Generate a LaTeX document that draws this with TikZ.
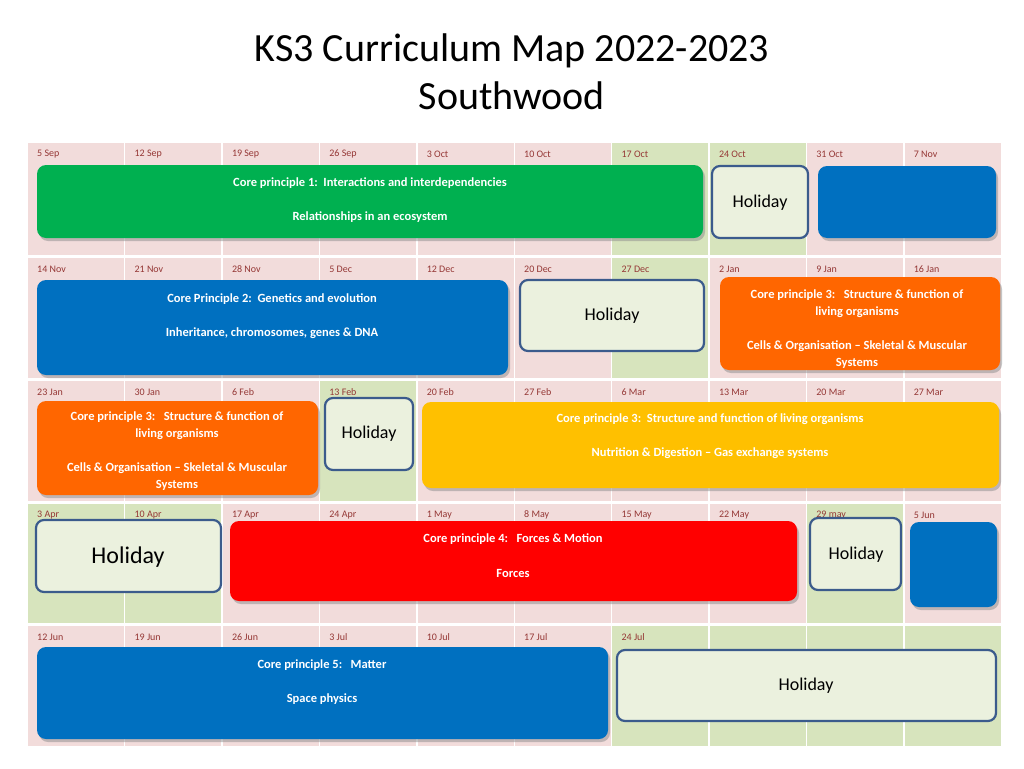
\documentclass[tikz,border=0pt]{standalone}
\usepackage{fontspec}
\setmainfont{Carlito}
\usetikzlibrary{shadows}
\definecolor{pk}{HTML}{F2DCDB}
\definecolor{gr}{HTML}{D7E4BD}
\definecolor{dt}{HTML}{953735}
\definecolor{cgreen}{HTML}{00B050}
\definecolor{cblue}{HTML}{0070C0}
\definecolor{corange}{HTML}{FF6600}
\definecolor{cred}{HTML}{FF0000}
\definecolor{cyellow}{HTML}{FFC000}
\definecolor{hfill}{HTML}{EBF1DE}
\definecolor{hline}{HTML}{3B5B8C}
\tikzset{
 x=1pt,y=-1pt,
 topic/.style={rounded corners=9pt,drop shadow={shadow xshift=2pt,shadow yshift=-3pt,fill=black!45}},
 hol/.style={rounded corners=8pt,fill=hfill,draw=hline,line width=2.2pt},
 dlab/.style={anchor=west,text=dt,font=\fontsize{10}{12}\selectfont,inner sep=0pt},
 ttxt/.style={text=white,font=\fontsize{12.5}{17}\selectfont\bfseries,align=center,inner sep=0pt},
 htxt/.style={font=\fontsize{18}{20}\selectfont,inner sep=0pt},
}
\begin{document}
\begin{tikzpicture}
\useasboundingbox (0,0) rectangle (1024,768);
\fill[white] (0,0) rectangle (1024,768);
\node[font=\fontsize{40}{48}\selectfont,align=center] (title) at (512,72) {KS3 Curriculum Map 2022-2023\\Southwood};
% grid
\def\colx{{28,125.4,222.8,320.2,417.6,515,612.4,709.8,807.2,904.6,1002}}
\foreach \r/\ya/\yb/\greens/\labs in {
 1/143/255/{7,8}/{5 Sep,12 Sep,19 Sep,26 Sep,3 Oct,10 Oct,17 Oct,24 Oct,31 Oct,7 Nov},
 2/258/378/{7}/{14 Nov,21 Nov,28 Nov,5 Dec,12 Dec,20 Dec,27 Dec,2 Jan,9 Jan,16 Jan},
 3/381/501/{4}/{23 Jan,30 Jan,6 Feb,13 Feb,20 Feb,27 Feb,6 Mar,13 Mar,20 Mar,27 Mar},
 4/504/623/{1,2,9}/{3 Apr,10 Apr,17 Apr,24 Apr,1 May,8 May,15 May,22 May,29 may,5 Jun},
 5/626/746/{7,8,9,10}/{12 Jun,19 Jun,26 Jun,3 Jul,10 Jul,17 Jul,24 Jul,,,}}{
 \foreach \c [count=\i from 0] in {1,...,10}{
   \pgfmathsetmacro\xa{\colx[\i]}
   \pgfmathsetmacro\xb{\colx[\i+1]-1.5}
   \def\cc{pk}
   \foreach \g in \greens {\ifnum\g=\c\gdef\cc{gr}\fi}
   \fill[\cc] (\xa,\ya) rectangle (\xb,\yb);
   \global\let\cc\cc
 }
 \foreach \l [count=\j from 0] in \labs {
   \pgfmathsetmacro\xl{\colx[\j]+9}
   \node[dlab] (d\r-\j) at (\xl,\ya+11) {\l};
 }
}
% row 1
\fill[topic,cgreen] (37,165) rectangle (703,238);
\node[ttxt] (t1a) at (370,183) {Core principle 1:\ \ Interactions and interdependencies};
\node[ttxt] (t1b) at (370,217) {Relationships in an ecosystem};
\draw[hol] (712,166) rectangle (808,238);
\node[htxt] (h1) at (760,203) {Holiday};
\fill[topic,cblue] (818,166) rectangle (996,238);
% row 2
\fill[topic,cblue] (37,280) rectangle (508,375);
\node[ttxt] (t2a) at (272,299) {Core Principle 2:\ \ Genetics and evolution};
\node[ttxt] (t2b) at (272,333) {Inheritance, chromosomes, genes \& DNA};
\draw[hol] (520,280) rectangle (704,351);
\node[htxt] (h2) at (612,316) {Holiday};
\fill[topic,corange] (720,277) rectangle (1000,370);
\node[ttxt] (t3a) at (857,304) {Core principle 3:\ \ \ Structure \& function of\\living organisms};
\node[ttxt] (t3b) at (857,355) {Cells \& Organisation -- Skeletal \& Muscular\\Systems};
% row 3
\fill[topic,corange] (37,401) rectangle (318,495);
\node[ttxt] (t4a) at (177,426) {Core principle 3:\ \ \ Structure \& function of\\living organisms};
\node[ttxt] (t4b) at (177,477) {Cells \& Organisation -- Skeletal \& Muscular\\Systems};
\draw[hol] (325,398) rectangle (413,470);
\node[htxt] (h3) at (369,434) {Holiday};
\fill[topic,cyellow] (422,402) rectangle (999,488);
\node[ttxt] (t5a) at (710,419) {Core principle 3:\ \ Structure and function of living organisms};
\node[ttxt] (t5b) at (710,453) {Nutrition \& Digestion -- Gas exchange systems};
% row 4
\draw[hol] (36,520) rectangle (221,592);
\node[htxt,font=\fontsize{24}{26}\selectfont] (h4) at (128,557) {Holiday};
\fill[topic,cred] (230,521) rectangle (797,601);
\node[ttxt] (t6a) at (513,539) {Core principle 4:\ \ \ Forces \& Motion};
\node[ttxt] (t6b) at (513,573) {Forces};
\draw[hol] (810,518) rectangle (901,590);
\node[htxt] (h5) at (856,555) {Holiday};
\fill[topic,cblue] (910,522) rectangle (997,607);
% row 5
\fill[topic,cblue] (37,647) rectangle (608,739);
\node[ttxt] (t7a) at (322,665) {Core principle 5:\ \ \ Matter};
\node[ttxt] (t7b) at (322,699) {Space physics};
\draw[hol] (617,650) rectangle (996,721);
\node[htxt] (h6) at (806,686) {Holiday};
\end{tikzpicture}
\end{document}
